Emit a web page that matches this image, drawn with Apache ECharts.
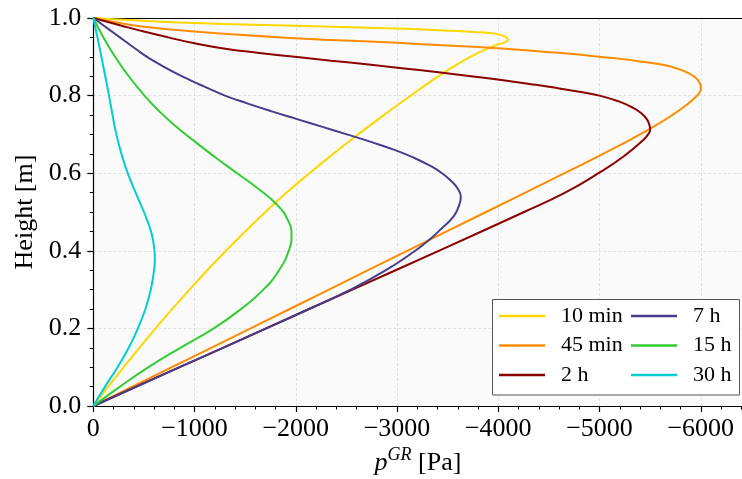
<!DOCTYPE html>
<html>
<head>
<meta charset="utf-8">
<script src="https://cdn.jsdelivr.net/npm/echarts@6/dist/echarts.min.js"></script>
<style>
  html, body { margin: 0; padding: 0; background: #ffffff; overflow: hidden; }
  /* the plot runs on past the right edge of the window, so the canvas is wider than the view */
  #chart { width: 802px; height: 479px; }
</style>
</head>
<body>
<div id="chart"></div>
<script>
// Pressure profiles p^GR over the column height, one curve per elapsed time
const seriesNames = ['10 min', '45 min', '2 h', '7 h', '15 h', '30 h'];
const seriesColors = ['#FFD700', '#FF8C00', '#8B0000', '#483D8B', '#32CD32', '#00CED1'];

// 10 min
const h10min = [0, 0.1, 0.2, 0.3, 0.4, 0.5, 0.55, 0.6, 0.65, 0.7, 0.75, 0.8, 0.85, 0.88, 0.91, 0.93, 0.936, 0.943, 0.949, 0.955, 0.96, 0.964, 0.968, 0.972, 0.98, 0.987, 0.994, 1.0];
const p10min = [0, -300, -615, -950, -1310, -1700, -1910, -2135, -2370, -2615, -2870, -3135, -3410, -3590, -3800, -3975, -4050, -4095, -4085, -4040, -3960, -3760, -3458, -3080, -2000, -1000, -400, 0];

// 45 min
const h45min = [0, 0.1, 0.2, 0.3, 0.4, 0.5, 0.6, 0.65, 0.69, 0.72, 0.75, 0.775, 0.795, 0.808, 0.819, 0.835, 0.849, 0.86, 0.870, 0.88, 0.887, 0.894, 0.900, 0.907, 0.913, 0.922, 0.929, 0.936, 0.948, 0.965, 0.979, 0.99, 1.0];
const p45min = [0, -776, -1553, -2328, -3100, -3880, -4655, -5035, -5330, -5535, -5720, -5855, -5945, -5988, -6002, -5985, -5936, -5860, -5765, -5610, -5435, -5230, -4997, -4740, -4447, -3996, -3500, -3000, -1996, -998, -461, -200, 0];

// 2 h
const h2h = [0, 0.1, 0.2, 0.3, 0.4, 0.5, 0.55, 0.6, 0.643, 0.686, 0.70, 0.713, 0.725, 0.74, 0.755, 0.77, 0.785, 0.80, 0.81, 0.82, 0.83, 0.84, 0.85, 0.86, 0.87, 0.88, 0.89, 0.90, 0.91, 0.92, 0.935, 0.95, 0.965, 0.98, 1.0];
const p2h = [0, -853, -1706, -2559, -3412, -4255, -4660, -4990, -5237, -5435, -5480, -5500, -5492, -5465, -5410, -5320, -5190, -5000, -4800, -4570, -4310, -4030, -3730, -3410, -3070, -2720, -2350, -1990, -1640, -1320, -1000, -740, -500, -280, 0];

// 7 h
const h7h = [0, 0.1, 0.2, 0.25, 0.3, 0.35, 0.4, 0.42, 0.44, 0.454, 0.488, 0.515, 0.539, 0.56, 0.58, 0.6, 0.62, 0.64, 0.66, 0.68, 0.7, 0.72, 0.74, 0.76, 0.78, 0.8, 0.82, 0.84, 0.86, 0.88, 0.9, 0.92, 0.94, 0.96, 0.98, 1.0];
const p7h = [0, -853, -1710, -2130, -2540, -2890, -3180, -3280, -3370, -3426, -3557, -3610, -3630, -3600, -3535, -3445, -3320, -3165, -2975, -2750, -2505, -2255, -2005, -1755, -1520, -1300, -1125, -955, -800, -660, -530, -420, -315, -210, -105, 0];

// 15 h
const h15h = [0, 0.05, 0.1, 0.15, 0.2, 0.25, 0.3, 0.35, 0.4, 0.44, 0.48, 0.52, 0.56, 0.6, 0.64, 0.68, 0.72, 0.76, 0.8, 0.85, 0.9, 0.95, 1.0];
const p15h = [0, -264, -545, -860, -1190, -1460, -1680, -1835, -1930, -1958, -1920, -1810, -1630, -1420, -1210, -1010, -820, -650, -505, -350, -215, -100, 0];

// 30 h
const h30h = [0, 0.05, 0.1, 0.15, 0.2, 0.25, 0.3, 0.35, 0.38, 0.41, 0.45, 0.5, 0.55, 0.6, 0.65, 0.7, 0.75, 0.8, 0.85, 0.9, 0.95, 1.0];
const p30h = [0, -116, -240, -350, -440, -515, -568, -600, -608, -600, -570, -500, -418, -340, -278, -228, -190, -155, -118, -80, -41, 0];

// Axis ranges and tick steps
const xRange = [-7000, 0];
const xStep = 1000;
const yRange = [0, 1];
const yStep = 0.2;

const profiles = [
  [p10min, h10min], [p45min, h45min], [p2h, h2h],
  [p7h, h7h], [p15h, h15h], [p30h, h30h]
];

const serif = 'Liberation Serif';

function pairs(p, h) {
  return p.map((v, i) => [v, h[i]]);
}

const chart = echarts.init(document.getElementById('chart'), null, { renderer: 'canvas' });

const legendBase = {
  orient: 'vertical',
  top: 305,
  padding: 0,
  icon: 'rect',
  itemWidth: 46,
  itemHeight: 2.5,
  itemGap: 7.5,
  selectedMode: false,
  z: 12,
  textStyle: { fontFamily: serif, fontSize: 22, color: '#000', lineHeight: 22, padding: [0, 0, 0, 11] }
};

const axisBlack = { color: '#000', width: 1.2 };
const gridLine = { show: true, showMinLine: false, showMaxLine: false, lineStyle: { color: '#dcdcdc', type: [3, 2], width: 0.8 } };

chart.setOption({
  animation: false,
  backgroundColor: '#ffffff',
  grid: {
    left: 93.3, top: 18, bottom: 73, right: 0,
    show: true, backgroundColor: '#fafafa', borderWidth: 0
  },
  xAxis: [
    {
      type: 'value',
      inverse: true,
      min: xRange[0], max: xRange[1], interval: xStep,
      axisLine: { show: true, onZero: false, lineStyle: axisBlack },
      axisTick: { show: true, length: 6, lineStyle: axisBlack },
      minorTick: { show: true, splitNumber: 5, length: 3.5, lineStyle: { color: '#000', width: 1 } },
      splitLine: gridLine,
      minorSplitLine: { show: false },
      axisLabel: {
        margin: 10, color: '#000', fontFamily: serif, fontSize: 26,
        showMinLabel: false,
        formatter: v => (v === 0 ? '0' : '\u2212' + Math.abs(v))
      }
    },
    {
      // top frame line
      type: 'value',
      position: 'top',
      inverse: true,
      min: xRange[0], max: xRange[1], interval: xStep,
      axisLine: { show: true, onZero: false, lineStyle: axisBlack },
      axisTick: { show: false },
      axisLabel: { show: false },
      splitLine: { show: false }
    }
  ],
  yAxis: {
    type: 'value',
    min: yRange[0], max: yRange[1], interval: yStep,
    name: 'Height [m]',
    nameLocation: 'middle',
    nameRotate: 90,
    nameGap: 55,
    nameTextStyle: { fontFamily: serif, fontSize: 26, color: '#000' },
    axisLine: { show: true, onZero: false, lineStyle: axisBlack },
    axisTick: { show: true, length: 6, lineStyle: axisBlack },
    minorTick: { show: true, splitNumber: 4, length: 3.5, lineStyle: { color: '#000', width: 1 } },
    splitLine: gridLine,
    axisLabel: {
      margin: 12, color: '#000', fontFamily: serif, fontSize: 26,
      formatter: v => v.toFixed(1)
    }
  },
  legend: [
    Object.assign({}, legendBase, { left: 499, data: seriesNames.slice(0, 3) }),
    Object.assign({}, legendBase, { left: 631, data: seriesNames.slice(3) })
  ],
  graphic: [
    {
      type: 'rect', z: 10,
      shape: { x: 492.5, y: 299.5, width: 247, height: 95.5 },
      style: { fill: '#ffffff', stroke: '#555555', lineWidth: 1 }
    },
    {
      type: 'text', z: 10, x: 418, y: 463,
      style: {
        text: '{i|p}{s|GR}{r| [Pa]}',
        align: 'center', verticalAlign: 'middle',
        rich: {
          i: { fontFamily: serif, fontStyle: 'italic', fontSize: 26, lineHeight: 34, verticalAlign: 'middle', fill: '#000' },
          s: { fontFamily: serif, fontStyle: 'italic', fontSize: 18, lineHeight: 18, verticalAlign: 'top', fill: '#000' },
          r: { fontFamily: serif, fontSize: 26, lineHeight: 34, verticalAlign: 'middle', fill: '#000' }
        }
      }
    }
  ],
  series: profiles.map(([p, h], i) => ({
    name: seriesNames[i],
    type: 'line',
    data: pairs(p, h),
    symbol: 'none',
    smooth: 0.5,
    clip: true,
    z: 2 + i * 0.01,
    lineStyle: { width: 2, color: seriesColors[i] },
    itemStyle: { color: seriesColors[i] }
  }))
});
</script>
</body>
</html>
